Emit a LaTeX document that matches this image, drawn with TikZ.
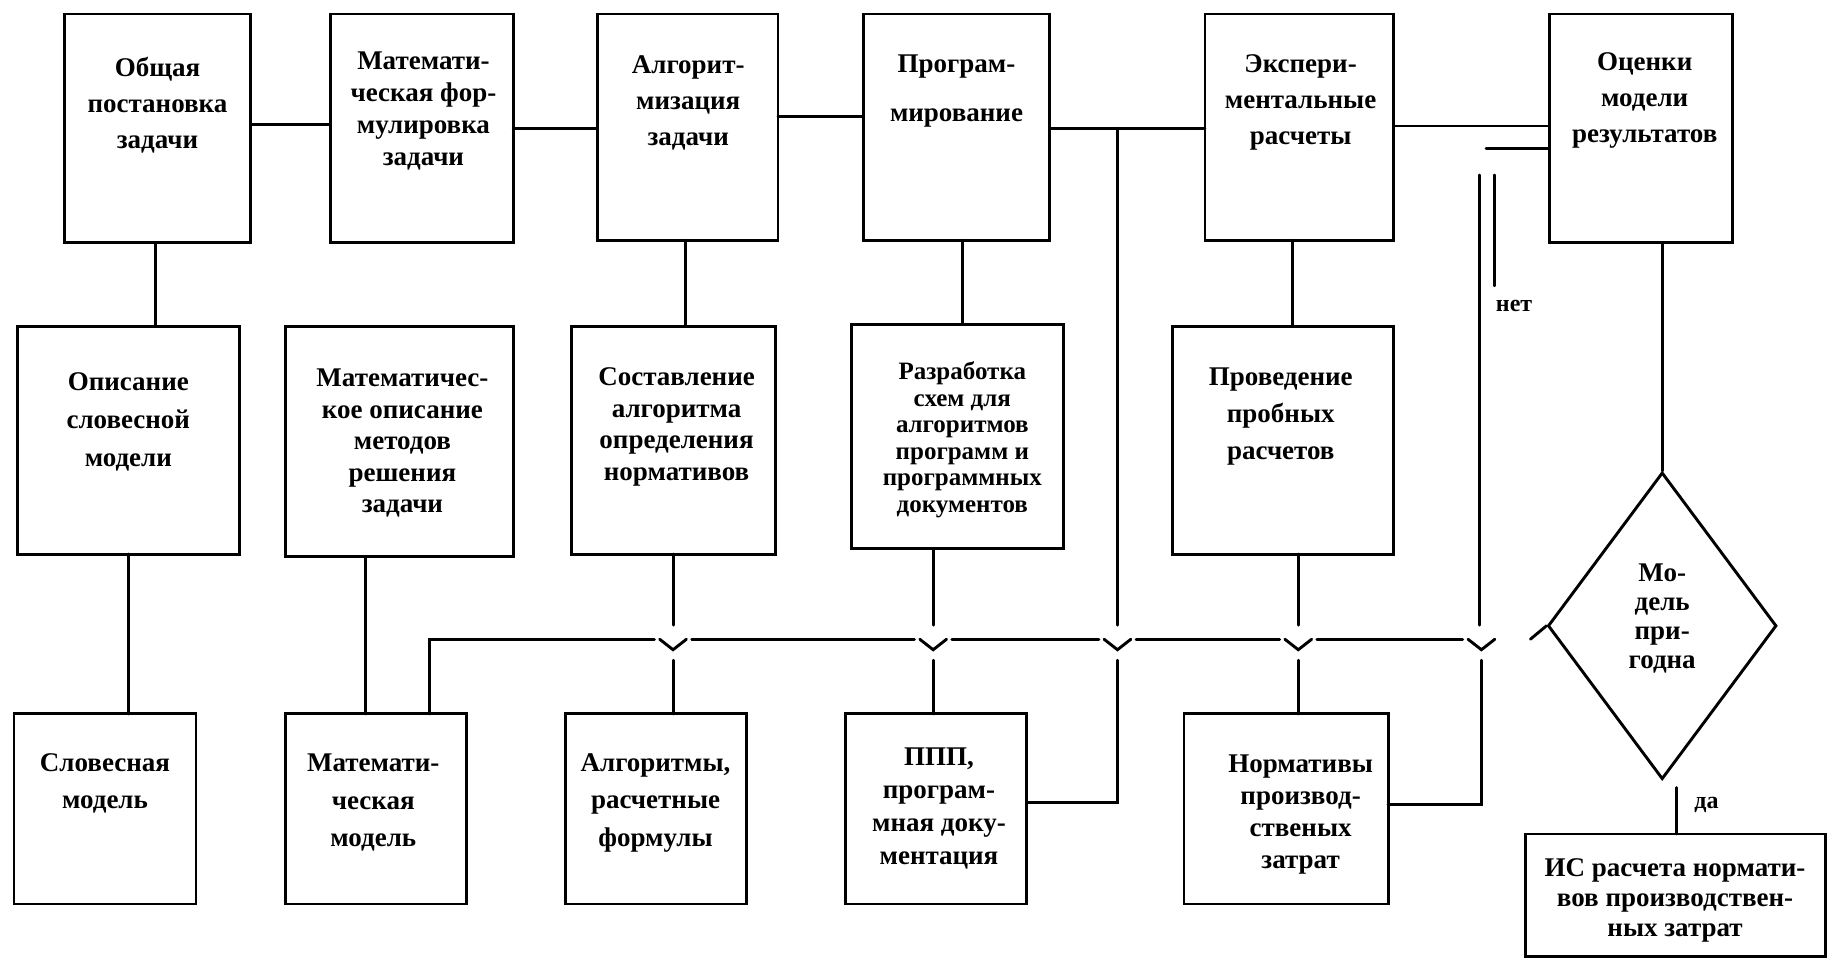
\documentclass[tikz,border=0pt]{standalone}
\usepackage{fontspec}
\setmainfont{Liberation Serif}
\usetikzlibrary{fit,shapes.geometric}
\begin{document}
\begin{tikzpicture}[x=1.1665pt,y=-1.1665pt,
  ln/.style={line width=2.9pt, line cap=round},
  box/.style={draw, line width=2.9pt, inner sep=0pt, outer sep=0pt},
  txt/.style={align=center, inner sep=0pt, font=\bfseries\fontsize{27}{#1}\selectfont},
  txt/.default=36,
  stxt/.style={align=center, inner sep=0pt, font=\bfseries\fontsize{25}{#1}\selectfont},
  lbl/.style={inner sep=0pt, font=\bfseries\fontsize{24}{28}\selectfont}]
\fill[white] (0,0) rectangle (1568,826);
\useasboundingbox (0,0) rectangle (1568,826);

% ---- row 1
\node[box, fit={(55,12) (215,208)}] (b1) {};
\node[box, fit={(283,12) (440,208)}] (b2) {};
\node[box, fit={(512,12) (667,206)}] (b3) {};
\node[box, fit={(740,12) (900,206)}] (b4) {};
\node[box, fit={(1033,12) (1195,206)}] (b5) {};
\node[box, fit={(1328,12) (1485,208)}] (b6) {};
\node[txt=36] (b1t) at (135,90) {Общая\\постановка\\задачи};
\node[txt=32] (b2t) at (363,95) {Математи-\\ческая фор-\\мулировка\\задачи};
\node[txt=36] (b3t) at (590,88) {Алгорит-\\мизация\\задачи};
\node[txt=49] (b4t) at (820,78) {Програм-\\мирование};
\node[txt=36] (b5t) at (1115,88) {Экспери-\\ментальные\\расчеты};
\node[txt=36] (b6t) at (1410,86) {Оценки\\модели\\результатов};

% ---- row 2
\node[box, fit={(15,280) (205,475)}] (r1) {};
\node[box, fit={(245,280) (440,477)}] (r2) {};
\node[box, fit={(490,280) (665,475)}] (r3) {};
\node[box, fit={(730,278) (912,470)}] (r4) {};
\node[box, fit={(1005,280) (1195,475)}] (r5) {};
\node[txt=38] (r1t) at (110,362) {Описание\\словесной\\модели};
\node[txt=31.5] (r2t) at (345,380) {Математичес-\\кое описание\\методов\\решения\\задачи};
\node[txt=31.5] (r3t) at (580,366) {Составление\\алгоритма\\определения\\нормативов};
\node[stxt=26.5] (r4t) at (825,377) {Разработка\\схем для\\алгоритмов\\программ и\\программных\\документов};
\node[txt=37] (r5t) at (1098,357) {Проведение\\пробных\\расчетов};

% ---- row 3
\node[box, fit={(12,612) (168,775)}] (l1) {};
\node[box, fit={(245,612) (400,775)}] (l2) {};
\node[box, fit={(485,612) (640,775)}] (l3) {};
\node[box, fit={(725,612) (880,775)}] (l4) {};
\node[box, fit={(1015,612) (1190,775)}] (l5) {};
\node[box, fit={(1308,715) (1565,820)}] (l6) {};
\node[txt=37] (l1t) at (90,672) {Словесная\\модель};
\node[txt=37.5] (l2t) at (320,688) {Математи-\\ческая\\модель};
\node[txt=37.5] (l3t) at (562,688) {Алгоритмы,\\расчетные\\формулы};
\node[txt=33] (l4t) at (805,693) {ППП,\\програм-\\мная доку-\\ментация};
\node[txt=32] (l5t) at (1115,698) {Нормативы\\производ-\\ственых\\затрат};
\node[txt=30] (l6t) at (1436,772) {ИС расчета нормати-\\вов производствен-\\ных затрат};

% ---- decision
\node[draw, diamond, line width=2.9pt, inner sep=0pt, minimum width=196*1.1665pt, minimum height=263*1.1665pt] (d) at (1425,536.5) {};
\node[txt=29] (dt) at (1425,530) {Мо-\\дель\\при-\\годна};
\node[lbl] (no) at (1298,262) {нет};
\node[lbl] (yes) at (1463,690) {да};

% ---- row 1 connectors
\draw[ln] (b1.east |- 0,107) -- (b2.west |- 0,107);
\draw[ln] (b2.east |- 0,110) -- (b3.west |- 0,110);
\draw[ln] (b3.east |- 0,100) -- (b4.west |- 0,100);
\draw[ln] (b4.east |- 0,110) -- (b5.west |- 0,110);
\draw[ln] (b5.east |- 0,108) -- (b6.west |- 0,108);
\coordinate (n1) at (1274,127);
\draw[ln] (b6.west |- n1) -- (n1);

% ---- row 1 -> row 2
\draw[ln] (b1.south -| 133,0) -- (r1.north -| 133,0);
\draw[ln] (b3.south -| 588,0) -- (r3.north -| 588,0);
\draw[ln] (b4.south -| 825,0) -- (r4.north -| 825,0);
\draw[ln] (b5.south -| 1108,0) -- (r5.north -| 1108,0);
\draw[ln] (b6.south -| d.north) -- (d.north);

% ---- row 2 -> row 3
\draw[ln] (r1.south -| 110,0) -- (l1.north -| 110,0);
\draw[ln] (r2.south -| 313,0) -- (l2.north -| 313,0);
\draw[ln] (r3.south -| 577,0) -- (577,536);
\draw[ln] (577,566) -- (l3.north -| 577,0);
\draw[ln] (r4.south -| 800,0) -- (800,536);
\draw[ln] (800,566) -- (l4.north -| 800,0);
\draw[ln] (r5.south -| 1113,0) -- (1113,536);
\draw[ln] (1113,566) -- (l5.north -| 1113,0);

% ---- long verticals
\draw[ln] (958,110) -- (958,536);
\draw[ln] (958,566) -- (958,688) -- (l4.east |- 0,688);
\draw[ln] (1268,150) -- (1268,536);
\draw[ln] (1281,150) -- (1281,245);
\draw[ln] (1270,566) -- (1270,690) -- (l5.east |- 0,690);

% ---- bus
\draw[ln] (l2.north -| 368,0) -- (368,548) -- (561,548);
\draw[ln] (593,548) -- (784,548);
\draw[ln] (816,548) -- (942,548);
\draw[ln] (974,548) -- (1097,548);
\draw[ln] (1129,548) -- (1254,548);
\draw[ln] (1312,548) -- (d.west);
\foreach \vx in {577,800,958,1113,1270}
  \draw[ln] (\vx-11.5,548) -- (\vx,557) -- (\vx+11.5,548);

% ---- yes branch
\draw[ln] (d.south -| 1437,0) ++(0,6) -- (l6.north -| 1437,0) ++(0,-8);
\end{tikzpicture}
\end{document}
